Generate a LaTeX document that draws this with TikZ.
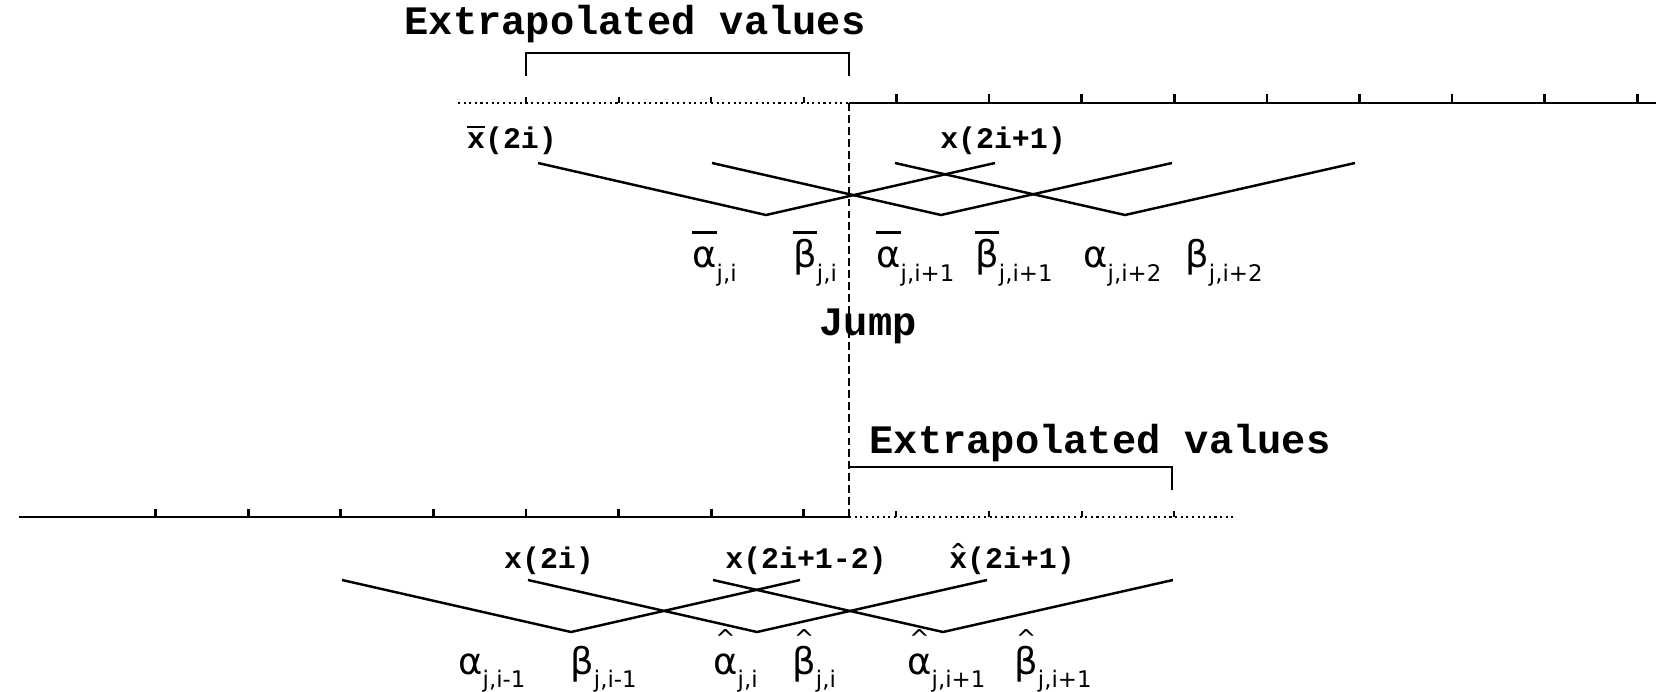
\documentclass[tikz,border=0pt]{standalone}
\usepackage{fontspec}
\newfontfamily\monof{Liberation Mono}
\newfontfamily\gkf{DejaVu Sans}
\newcommand{\ovbar}[2]{\setbox0=\hbox{#2}\rlap{\raisebox{#1}{\rule{\wd0}{1.3pt}}}\box0}
\newcommand{\hatup}[3]{\setbox0=\hbox{#3}\rlap{\hbox to\wd0{\hss\smash{\raisebox{#1}{\gkf\fontsize{#2}{#2}\selectfont\symbol{"5E}}}\hss}}\box0}
\newcommand{\sbs}[1]{\raisebox{-7.5pt}{\gkf\fontsize{13}{13}\selectfont #1}}
\tikzset{
  axis/.style={line width=1.7pt},
  dotaxis/.style={line width=1.3pt, dash pattern=on 1.2pt off 2pt},
  tick/.style={line width=1.5pt},
  smalltick/.style={line width=1.1pt},
  zig/.style={line width=1.4pt},
  brk/.style={line width=1.5pt},
  jumpline/.style={line width=1.4pt, dash pattern=on 4.5pt off 2.3pt},
  bigtext/.style={font=\monof\bfseries\fontsize{23}{23}\selectfont, inner sep=0pt, anchor=base},
  xlab/.style={font=\monof\bfseries\fontsize{17}{17}\selectfont, inner sep=0pt, anchor=base},
  gl/.style={font=\gkf\fontsize{21}{21}\selectfont, inner sep=0pt, anchor=base west},
}
\begin{document}
\begin{tikzpicture}[x=0.02cm, y=-0.02cm]
\fill[white] (0,0) rectangle (1659,692);
\useasboundingbox (0,0) rectangle (1659,692);

% texts
\node[bigtext] (ext1) at (635,35) {Extrapolated values};
\node[bigtext] (ext2) at (1100,453) {Extrapolated values};
\node[bigtext] (jump) at (868,336) {Jump};

% top axis
\coordinate (ta0) at (458,103);
\coordinate (tj) at (849,103);
\coordinate (ta1) at (1656,103);
\draw[dotaxis] (ta0) -- (tj);
\draw[axis] (tj) -- (ta1);
\foreach \k in {0,...,3} \draw[smalltick] ({526+92.6*\k},103) -- ++(0,-6);
\foreach \k in {4,...,12} \draw[tick] ({526+92.6*\k},103) -- ++(0,-9);

% bottom axis
\coordinate (ba0) at (19,517);
\coordinate (bj) at (849,517);
\coordinate (ba1) at (1233,517);
\draw[axis] (ba0) -- (bj);
\draw[dotaxis] (bj) -- (ba1);
\foreach \k in {-4,...,3} \draw[tick] ({526+92.6*\k},517) -- ++(0,-8);
\foreach \k in {4,...,7} \draw[smalltick] ({526+92.6*\k},517) -- ++(0,-6);

% jump line
\draw[jumpline] (tj) -- (bj);

% brackets
\coordinate (tb0) at (526,76);
\coordinate (tb1) at (849,76);
\draw[brk] (tb0) -- (526,53) -- (849,53) -- (tb1);
\coordinate (bb0) at (849,467);
\coordinate (bb1) at (1172,490);
\draw[brk] (bb0) -- (1172,467) -- (bb1);

% top zigzags
\foreach \n/\l/\v/\r in {1/538/766/995, 2/712/941/1172, 3/895/1125/1355} {
  \coordinate (tl\n) at (\l,163);
  \coordinate (tv\n) at (\v,215);
  \coordinate (tr\n) at (\r,163);
  \draw[zig] (tl\n) -- (tv\n) -- (tr\n);
}
% bottom zigzags
\foreach \n/\l/\v/\r in {1/342/571/800, 2/528/757/987, 3/713/943/1173} {
  \coordinate (bl\n) at (\l,580);
  \coordinate (bv\n) at (\v,632);
  \coordinate (br\n) at (\r,580);
  \draw[zig] (bl\n) -- (bv\n) -- (br\n);
}

% x labels
\node[xlab] (xt1) at (512,149) {\ovbar{12pt}{x}(2i)};
\node[xlab] (xt2) at (1003,149) {x(2i+1)};
\node[xlab] (xb1) at (549,568) {x(2i)};
\node[xlab] (xb2) at (806,568) {x(2i+1-2)};
\node[xlab] (xb3) at (1012,568) {\hatup{6pt}{11}{x}(2i+1)};

% top greek labels
\node[gl] (ta1l) at (692,268) {\ovbar{19.5pt}{α}\sbs{j,i}};
\node[gl] (tb1l) at (793,268) {\ovbar{19.5pt}{β}\sbs{j,i}};
\node[gl] (ta2l) at (876,268) {\ovbar{19.5pt}{α}\sbs{j,i+1}};
\node[gl] (tb2l) at (975,268) {\ovbar{19.5pt}{β}\sbs{j,i+1}};
\node[gl] (ta3l) at (1083,268) {α\sbs{j,i+2}};
\node[gl] (tb3l) at (1185,268) {β\sbs{j,i+2}};

% bottom greek labels
\node[gl] (ba1l) at (458,674) {α\sbs{j,i-1}};
\node[gl] (bb1l) at (570,674) {β\sbs{j,i-1}};
\node[gl] (ba2l) at (713,674) {\hatup{15pt}{14}{α}\sbs{j,i}};
\node[gl] (bb2l) at (792,674) {\hatup{15pt}{14}{β}\sbs{j,i}};
\node[gl] (ba3l) at (907,674) {\hatup{15pt}{14}{α}\sbs{j,i+1}};
\node[gl] (bb3l) at (1014,674) {\hatup{15pt}{14}{β}\sbs{j,i+1}};
\end{tikzpicture}
\end{document}
